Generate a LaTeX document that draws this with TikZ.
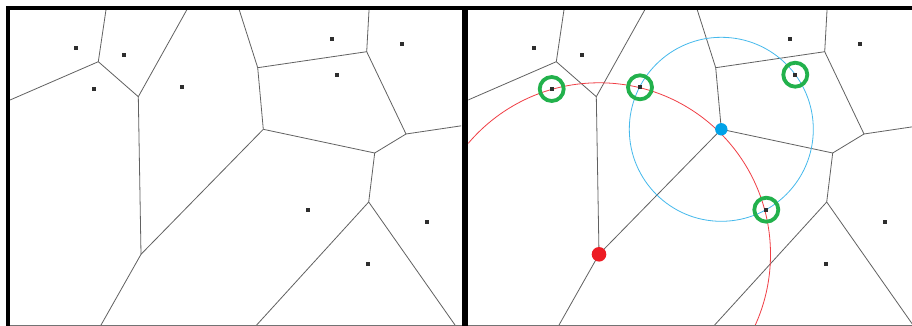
\documentclass[tikz,border=0pt]{standalone}
\usetikzlibrary{calc}
\definecolor{pred}{HTML}{ED1C24}
\definecolor{pblue}{HTML}{00A2E8}
\definecolor{pbluec}{HTML}{45B9EC}
\definecolor{pgreen}{HTML}{22B14C}
\begin{document}
\begin{tikzpicture}[x=1pt,y=-1pt,
  vedge/.style={draw=black!62,line width=0.8pt},
  sitept/.style={rectangle,fill=black!82,minimum size=4pt,inner sep=0pt},
  ring/.style={circle,draw=pgreen,line width=3.8pt,minimum size=24pt,inner sep=0pt},
  redcirc/.style={draw=pred!85,line width=0.8pt},
  bluecirc/.style={draw=pbluec,line width=0.8pt},
  reddot/.style={circle,fill=pred,minimum size=14.6pt,inner sep=0pt},
  bluedot/.style={circle,fill=pblue,minimum size=12.4pt,inner sep=0pt},
  frame/.style={fill=black}]
\useasboundingbox (0,0) rectangle (912,326);
\fill[white] (0,0) rectangle (912,326);
\foreach \p/\dx/\xa/\xb in {L/0/10/461,R/458/468.3/912}{
  \begin{scope}
    \clip (\xa,10) rectangle (\xb,325.5);
    \begin{scope}[xshift=\dx pt]
      % Voronoi vertices
      \coordinate (\p A) at (98.3,61.7);
      \coordinate (\p B) at (138.3,96.7);
      \coordinate (\p C) at (141,254.3);
      \coordinate (\p D) at (257.7,67.7);
      \coordinate (\p E) at (263.3,129.3);
      \coordinate (\p F) at (366.7,51.7);
      \coordinate (\p G) at (406,134);
      \coordinate (\p H) at (374.7,153);
      \coordinate (\p I) at (368.7,202);
      % free ends
      \coordinate (\p At) at (106.7,5);
      \coordinate (\p Al) at (5,102.2);
      \coordinate (\p Bt) at (189.5,5);
      \coordinate (\p Cb) at (98.2,330);
      \coordinate (\p Dt) at (237.7,5);
      \coordinate (\p Ft) at (369.3,5);
      \coordinate (\p Gr) at (520,117.1);
      \coordinate (\p Il) at (252.1,330);
      \coordinate (\p Ir) at (458.5,330);
      % edges
      \draw[vedge] (\p At) -- (\p A) -- (\p Al);
      \draw[vedge] (\p A) -- (\p B) -- (\p Bt);
      \draw[vedge] (\p B) -- (\p C) -- (\p Cb);
      \draw[vedge] (\p C) -- (\p E) -- (\p D) -- (\p Dt);
      \draw[vedge] (\p D) -- (\p F) -- (\p Ft);
      \draw[vedge] (\p F) -- (\p G) -- (\p Gr);
      \draw[vedge] (\p G) -- (\p H) -- (\p E);
      \draw[vedge] (\p H) -- (\p I) -- (\p Il);
      \draw[vedge] (\p I) -- (\p Ir);
      % sites
      \node[sitept] (\p S1) at (75.7,47.7) {};
      \node[sitept] (\p S2) at (124.3,54.7) {};
      \node[sitept] (\p S3) at (93.7,89) {};
      \node[sitept] (\p S4) at (182,87.3) {};
      \node[sitept] (\p S5) at (331.7,38.7) {};
      \node[sitept] (\p S6) at (402.3,44) {};
      \node[sitept] (\p S7) at (337.3,74.7) {};
      \node[sitept] (\p S8) at (308.3,209.7) {};
      \node[sitept] (\p S9) at (427.3,222.3) {};
      \node[sitept] (\p S10) at (368,263.7) {};
    \end{scope}
  \end{scope}
}
% empty circles and their centres (right panel)
\begin{scope}
  \clip (468.3,10) rectangle (912,325.5);
  \draw[redcirc] (RC) circle[radius=171.5];
  \draw[bluecirc] (RE) circle[radius=92];
  \node[sitept] at (RS3) {};
  \node[sitept] at (RS4) {};
  \node[sitept] at (RS7) {};
  \node[sitept] at (RS8) {};
  \node[ring] (g3) at (RS3) {};
  \node[ring] (g4) at (RS4) {};
  \node[ring] (g7) at (RS7) {};
  \node[ring] (g8) at (RS8) {};
  \node[reddot] (rdot) at (RC) {};
  \node[bluedot] (bdot) at (RE) {};
\end{scope}
% bottom line and frame
\draw[black!55,line width=0.9pt] (10,325.4) -- (912,325.4);
\fill[frame] (6,6) rectangle (912,10.3);
\fill[frame] (6,6) rectangle (10.3,326);
\fill[frame] (462.3,6) rectangle (468.3,326);
\end{tikzpicture}
\end{document}
